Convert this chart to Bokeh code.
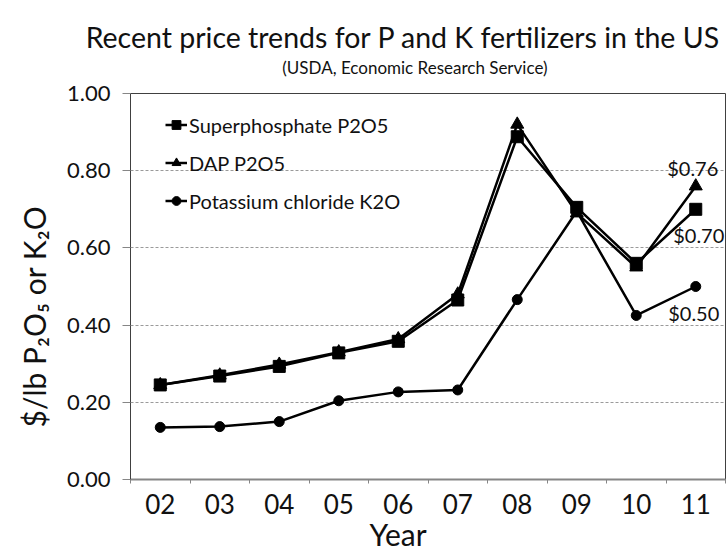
from bokeh.plotting import figure
from bokeh.models import Range1d, FixedTicker, NumeralTickFormatter, Legend, LegendItem, Title
from bokeh.core.properties import value
from bokeh.embed import file_html
from bokeh.resources import INLINE

years = ["02", "03", "04", "05", "06", "07", "08", "09", "10", "11"]
superphosphate = [0.245, 0.268, 0.293, 0.328, 0.358, 0.465, 0.888, 0.705, 0.560, 0.700]
dap = [0.245, 0.270, 0.298, 0.330, 0.364, 0.480, 0.920, 0.690, 0.550, 0.760]
potash = [0.135, 0.137, 0.150, 0.204, 0.227, 0.232, 0.466, 0.695, 0.425, 0.500]
y_ticks = [0.0, 0.2, 0.4, 0.6, 0.8, 1.0]

FONT = "Lato"
TXT = "#111111"
xs = list(range(len(years)))

p = figure(width=727, height=559, output_backend="svg", toolbar_location=None,
           x_range=Range1d(-0.5, len(years) - 0.5), y_range=Range1d(0, 1.0),
           min_border_left=128, min_border_right=2, min_border_top=93, min_border_bottom=80)

p.outline_line_color = "#404040"
p.outline_line_width = 1
p.background_fill_color = "white"
p.border_fill_color = "white"

# x axis
xa = p.xaxis[0]
xa.ticker = FixedTicker(ticks=xs, minor_ticks=[i - 0.5 for i in range(len(years) + 1)])
xa.major_label_overrides = {i: y for i, y in enumerate(years)}
xa.major_tick_out = 0
xa.major_tick_in = 0
xa.minor_tick_out = 4
xa.minor_tick_in = 0
xa.minor_tick_line_color = "#868686"
xa.axis_line_color = "#868686"
xa.axis_line_width = 2
xa.major_label_text_font = FONT
xa.major_label_text_font_size = "26px"
xa.major_label_text_color = TXT
xa.major_label_standoff = 10

# y axis
ya = p.yaxis[0]
ya.ticker = FixedTicker(ticks=y_ticks)
ya.formatter = NumeralTickFormatter(format="0.00")
ya.major_tick_out = 8
ya.major_tick_in = 0
ya.minor_tick_out = 0
ya.minor_tick_in = 0
ya.major_tick_line_color = "#868686"
ya.axis_line_color = "#404040"
ya.axis_line_width = 1
ya.major_label_text_font = FONT
ya.major_label_text_font_size = "22px"
ya.major_label_text_color = TXT
ya.major_label_standoff = 12

def make_title(text, size, align, offset, standoff, valign="bottom"):
    return Title(text=text, align=align, offset=offset, standoff=standoff,
                 vertical_align=valign, text_font=FONT, text_font_size=size,
                 text_font_style="normal", text_color=TXT)

# chart titles (subtitle closest to the frame)
p.add_layout(make_title("(USDA, Economic Research Service)", "17px", "right", 178, 32), "above")
p.add_layout(make_title("Recent price trends for P and K fertilizers in the US", "28.5px",
                        "right", 5, -31), "above")
# axis titles
p.add_layout(make_title("$/lb P\u2082O\u2085 or K\u2082O", "30px", "left", 52, 26), "left")
p.add_layout(make_title("Year", "30px", "left", 239, -2, valign="top"), "below")

p.xgrid.grid_line_color = None
p.ygrid.ticker = FixedTicker(ticks=y_ticks[1:-1])
p.ygrid.grid_line_color = "#9a9a9a"
p.ygrid.grid_line_dash = "3 2"
p.ygrid.grid_line_width = 1

LW = 2.5
l1 = p.line(xs, superphosphate, line_color="black", line_width=LW)
m1 = p.scatter(xs, superphosphate, marker="square", size=12, fill_color="black", line_color="black")
l2 = p.line(xs, dap, line_color="black", line_width=LW)
m2 = p.scatter(xs, dap, marker="triangle", size=13, fill_color="black", line_color="black")
l3 = p.line(xs, potash, line_color="black", line_width=LW)
m3 = p.scatter(xs, potash, marker="circle", size=10, fill_color="black", line_color="black")

legend = Legend(items=[
    LegendItem(label="Superphosphate P2O5", renderers=[l1, m1]),
    LegendItem(label="DAP P2O5", renderers=[l2, m2]),
    LegendItem(label="Potassium chloride K2O", renderers=[l3, m3]),
], location=(35, 266), label_text_font=FONT, label_text_font_size="20px",
    label_text_color=TXT, glyph_width=22, glyph_height=25, label_height=25,
    spacing=13, padding=0, margin=0, label_standoff=2,
    background_fill_alpha=0, border_line_alpha=0)
p.add_layout(legend, "center")

# end-value annotations
last = len(years) - 1
ann_x = [last, last, last]
ann_y = [dap[-1], superphosphate[-1], potash[-1]]
ann_text = ["$%.2f" % v for v in ann_y]
p.text(ann_x, ann_y, text=ann_text, text_font=value(FONT), text_font_size="20px",
       text_color=TXT, text_align="center", text_baseline="middle",
       x_offset=[-3, 3, -2], y_offset=[-18, 26, 26])

open("out.html", "w").write(file_html(p, INLINE))
